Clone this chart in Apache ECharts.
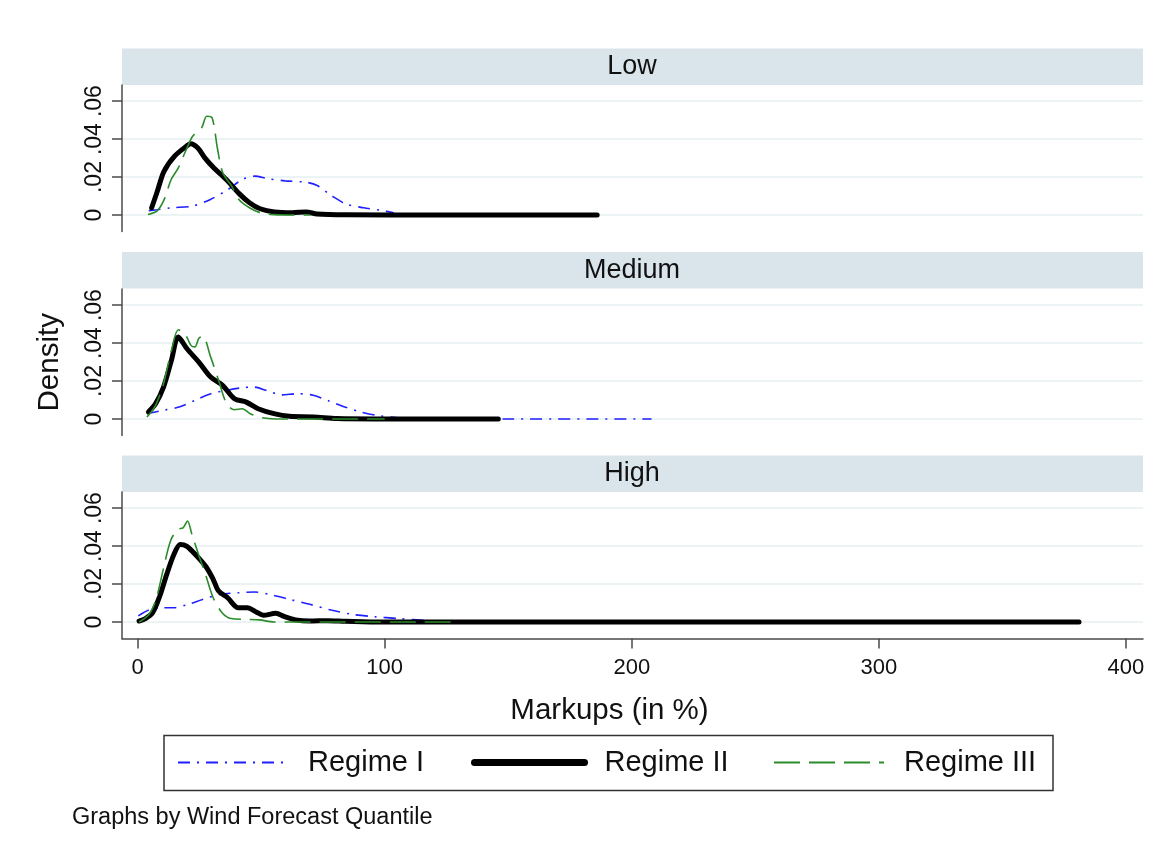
<!DOCTYPE html>
<html>
<head>
<meta charset="utf-8">
<script src="https://cdn.jsdelivr.net/npm/echarts@6/dist/echarts.min.js"></script>
<style>
  html, body { margin: 0; padding: 0; background: #fff; }
  #main { width: 1175px; height: 859px; }
</style>
</head>
<body>
<div id="main"></div>
<script>
// panels and legend names
var panels = ['Low', 'Medium', 'High'];
var regimes = ['Regime I', 'Regime II', 'Regime III'];
var xTicks = [0, 100, 200, 300, 400];
var yTicks = [0, 0.02, 0.04, 0.06];

// density curves: [markup %, density]
var lowRegime1 = [[4.5,0.0022],[7.8,0.0028],[13.6,0.0038],[22.3,0.0047],[29.5,0.0082],[36.7,0.0135],[42.4,0.0187],[47.5,0.0205],[52.5,0.0192],[59.7,0.018],[68.4,0.0172],[72.7,0.0155],[78.5,0.0102],[84.3,0.0058],[91.5,0.0038],[98.7,0.0024],[103.7,0.0012]];
var lowRegime2 = [[5.7,0.0038],[7.8,0.0117],[10.7,0.023],[15,0.031],[20.1,0.0366],[21.5,0.0376],[24.4,0.0353],[27.3,0.030],[30.9,0.0248],[35.9,0.0187],[41,0.0114],[45.3,0.0065],[49.6,0.0033],[55.4,0.0016],[62.6,0.0012],[68.2,0.0016],[72.7,0.0005],[84.3,0.0001],[120,0],[186,0]];
var lowRegime3 = [[4.2,0.0003],[7.8,0.002],[10.7,0.008],[13.6,0.0187],[16.5,0.0248],[19.4,0.0336],[22.3,0.0415],[25.9,0.0458],[28,0.052],[30.2,0.0511],[32.4,0.0345],[34.5,0.0222],[38.1,0.0152],[41,0.0082],[45.3,0.0038],[49.6,0.0012],[54,0.0003],[60,0],[70,0]];

var medRegime1 = [[3.8,0.0028],[10.5,0.0046],[16.8,0.0063],[23.2,0.0098],[29.6,0.0133],[36,0.0151],[42.4,0.0165],[47.2,0.0168],[52,0.0151],[58.4,0.0127],[64.7,0.0133],[71.1,0.0125],[77.5,0.0095],[83.9,0.0063],[90.3,0.0037],[96.7,0.0019],[104.7,0.0007],[112.6,0.0001],[150,0],[208,0]];
var medRegime2 = [[4.4,0.0037],[7.3,0.0081],[10.5,0.0168],[13.7,0.0309],[16.5,0.0432],[20,0.037],[24.8,0.030],[29.6,0.0221],[34.4,0.0177],[39.2,0.0107],[44,0.0089],[48.8,0.0054],[55.2,0.0028],[61.5,0.0014],[71.1,0.0011],[80.7,0.0002],[96.7,0],[146,0]];
var medRegime3 = [[3.8,0.001],[7.3,0.0072],[10.5,0.0186],[13.7,0.0361],[16.5,0.047],[19.2,0.0449],[21.6,0.0388],[23.2,0.038],[24.8,0.0425],[26.4,0.0435],[29.6,0.0326],[32.8,0.0204],[36,0.0081],[39.2,0.0049],[42.4,0.0054],[45.6,0.0028],[50.4,0.0007],[58.4,0],[100,0]];

var highRegime1 = [[0.3,0.0032],[4.6,0.0063],[9,0.0075],[14.7,0.0075],[20.5,0.0093],[26.3,0.0119],[33.5,0.0146],[40.8,0.0154],[47.3,0.0158],[55.2,0.014],[62.4,0.0116],[69.7,0.0093],[78.3,0.0063],[87,0.004],[95.7,0.0028],[105.8,0.0018],[113,0.0011],[120,0.0005],[130,0]];
var highRegime2 = [[0.6,0.0005],[3.2,0.0018],[6.1,0.0049],[9,0.0137],[11.8,0.0251],[14.7,0.0356],[17.3,0.0409],[19.8,0.04],[23.4,0.0356],[27.7,0.0291],[30.6,0.0225],[32.8,0.0163],[36.4,0.0128],[40.8,0.0075],[44.4,0.0075],[48,0.0053],[50.9,0.0035],[55.9,0.0046],[59.5,0.0028],[63.9,0.0011],[69.7,0.0005],[76.9,0.0007],[84.1,0.0004],[98.6,0],[381,0]];
var highRegime3 = [[0.6,0],[4.6,0.004],[7.5,0.012],[10.4,0.0277],[13.3,0.0426],[16.2,0.0488],[18.4,0.0496],[20.2,0.0532],[22,0.0461],[24.9,0.0347],[27.7,0.0242],[30.6,0.0128],[34.2,0.0049],[37.9,0.0018],[43.6,0.0014],[49.4,0.0011],[55.2,0],[129,0]];

var panelData = [
  [lowRegime1, lowRegime2, lowRegime3],
  [medRegime1, medRegime2, medRegime3],
  [highRegime1, highRegime2, highRegime3]
];

var font = 'Liberation Sans, Arial, sans-serif';
var axisColor = '#4a4a4a';
var gridTops = [85, 289, 492];
var stripTops = [48.5, 252, 455.5];
var lineStyles = [
  {color: '#1f1fff', width: 1.6, type: [12, 7, 2, 7]},
  {color: '#000000', width: 5, type: 'solid', cap: 'round', join: 'round'},
  {color: '#2b8b2b', width: 1.6, type: [26, 9]}
];

var chart = echarts.init(document.getElementById('main'));

var grids = [], xAxes = [], yAxes = [], series = [], graphics = [];
panels.forEach(function (name, i) {
  grids.push({left: 122, top: gridTops[i], width: 1021, height: 146.5});
  var bottom = i === panels.length - 1;
  xAxes.push({
    gridIndex: i,
    type: 'value',
    min: -6.3,
    max: 406.9,
    show: bottom,
    name: bottom ? 'Markups (in %)' : '',
    nameLocation: 'middle',
    nameGap: 57,
    nameTextStyle: {fontFamily: font, fontSize: 29.5, color: '#111', padding: [0, 46, 0, 0]},
    axisLine: {show: true, onZero: false, lineStyle: {color: axisColor, width: 1.5}},
    axisTick: {show: true, length: 10, lineStyle: {color: axisColor, width: 1.5}, customValues: xTicks},
    axisLabel: {fontFamily: font, fontSize: 22, color: '#111', margin: 18, customValues: xTicks},
    splitLine: {show: false}
  });
  yAxes.push({
    gridIndex: i,
    type: 'value',
    min: -0.0087,
    max: 0.0685,
    name: i === 1 ? 'Density' : '',
    nameLocation: 'middle',
    nameRotate: 90,
    nameGap: 57,
    nameTextStyle: {fontFamily: font, fontSize: 29.5, color: '#111'},
    axisLine: {show: true, onZero: false, lineStyle: {color: axisColor, width: 1.5}},
    axisTick: {show: true, length: 10, lineStyle: {color: axisColor, width: 1.5}, customValues: yTicks},
    axisLabel: {
      fontFamily: font, fontSize: 23, color: '#111', rotate: 90, margin: 16,
      customValues: yTicks,
      formatter: function (v) { return v === 0 ? '0' : v.toFixed(2).replace(/^0/, ''); }
    },
    splitLine: {show: true, lineStyle: {color: '#e6eff2', width: 1.5}}
  });
  panelData[i].forEach(function (d, k) {
    series.push({
      name: regimes[k],
      type: 'line',
      xAxisIndex: i,
      yAxisIndex: i,
      data: d,
      smooth: 0.3,
      symbol: 'none',
      lineStyle: lineStyles[k],
      silent: true,
      animation: false,
      z: 2 + k
    });
  });
  // strip heading above each panel
  graphics.push({
    type: 'rect',
    shape: {x: 122, y: stripTops[i], width: 1021, height: 36.5},
    style: {fill: '#d9e5eb'}
  });
  graphics.push({
    type: 'text',
    x: 632,
    y: stripTops[i] + 18.5,
    style: {text: name, fontFamily: font, fontSize: 27, fill: '#111', align: 'center', verticalAlign: 'middle'}
  });
});

// frame round the legend
graphics.push({
  type: 'rect',
  shape: {x: 164, y: 735.5, width: 889, height: 55},
  style: {fill: 'none', stroke: '#333', lineWidth: 1.5}
});

var legendLeft = [177, 471, 773];
var legendWidth = [2, 7, 2];
var legends = regimes.map(function (r, k) {
  return {
    data: [{name: r, lineStyle: {width: legendWidth[k]}, itemStyle: {opacity: 0}}],
    left: legendLeft[k],
    top: 748,
    padding: 0,
    itemWidth: 110,
    itemHeight: 30,
    selectedMode: false,
    itemStyle: {opacity: 0},
    textStyle: {fontFamily: font, fontSize: 29, color: '#111', padding: [0, 0, 0, 15]}
  };
});

var option = {
  backgroundColor: '#fff',
  animation: false,
  title: {
    text: 'Graphs by Wind Forecast Quantile',
    left: 72,
    top: 806,
    padding: 0,
    textStyle: {fontFamily: font, fontSize: 23.5, fontWeight: 'normal', color: '#111'}
  },
  legend: legends,
  grid: grids,
  xAxis: xAxes,
  yAxis: yAxes,
  series: series,
  graphic: graphics
};
chart.setOption(option);
</script>
</body>
</html>
